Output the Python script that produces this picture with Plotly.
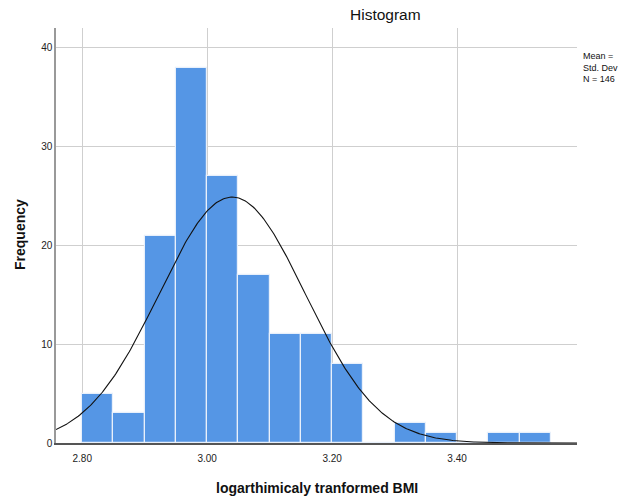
import numpy as np
import plotly.graph_objects as go

# Histogram bins (lower edges) and frequencies
bin_starts = [2.80, 2.85, 2.90, 2.95, 3.00, 3.05, 3.10, 3.15, 3.20, 3.25,
              3.30, 3.35, 3.40, 3.45, 3.50]
counts = [5, 3, 21, 38, 27, 17, 11, 11, 8, 0, 2, 1, 0, 1, 1]
bin_width = 0.05

# Summary statistics for the fitted normal curve
mean_val = 3.04
sd_val = 0.117
n_total = sum(counts)

x_ticks = [2.80, 3.00, 3.20, 3.40]
y_ticks = [0, 10, 20, 30, 40]

W, H = 618, 500
ML, MR, MT, MB = 56, 41, 28, 57
PW, PH = W - ML - MR, H - MT - MB


def px_x(p):
    return (p - ML) / PW


def px_y(p):
    return 1 - (p - MT) / PH


centers = [b + bin_width / 2 for b in bin_starts]

fig = go.Figure()
fig.add_trace(go.Bar(
    x=centers, y=counts, width=bin_width,
    marker=dict(color="#5596e5", line=dict(color="#e8f0fb", width=1.2)),
    showlegend=False, hoverinfo="x+y",
))

xr = [2.758, 3.592]
xs = np.linspace(xr[0], xr[1], 400)
ys = n_total * bin_width / (sd_val * np.sqrt(2 * np.pi)) * np.exp(-0.5 * ((xs - mean_val) / sd_val) ** 2)
fig.add_trace(go.Scatter(x=xs, y=ys, mode="lines",
                         line=dict(color="#111111", width=1.1),
                         showlegend=False, hoverinfo="skip"))

font = "Liberation Sans, Arial, sans-serif"

fig.update_layout(
    width=W, height=H,
    margin=dict(l=ML, r=MR, t=MT, b=MB),
    paper_bgcolor="white", plot_bgcolor="white",
    bargap=0,
    font=dict(family=font, color="#222222", size=10),
    xaxis=dict(
        range=xr, tickvals=x_ticks, ticktext=[f"{v:.2f}" for v in x_ticks],
        showgrid=True, gridcolor="#cfcfcf", gridwidth=1,
        showline=True, linecolor="#555555", linewidth=1.5,
        ticks="", zeroline=False, automargin=False, ticklabelstandoff=5,
        tickfont=dict(size=10, color="#222222"),
    ),
    yaxis=dict(
        range=[0, 42], tickvals=y_ticks,
        showgrid=True, gridcolor="#cfcfcf", gridwidth=1,
        showline=True, linecolor="#999999", linewidth=1.5,
        ticks="", zeroline=False, automargin=False,
        tickfont=dict(size=10, color="#222222"),
    ),
    annotations=[
        dict(text="Histogram", xref="paper", yref="paper",
             x=px_x(385), y=px_y(14),
             xanchor="center", yanchor="middle", showarrow=False,
             font=dict(size=15.5, color="#111111", family=font)),
        dict(text="<b>logarthimicaly tranformed BMI</b>", xref="paper", yref="paper",
             x=px_x(317), y=px_y(488),
             xanchor="center", yanchor="middle", showarrow=False,
             font=dict(size=14, color="#111111", family=font)),
        dict(text="<b>Frequency</b>", xref="paper", yref="paper",
             x=px_x(20), y=px_y(235), textangle=-90,
             xanchor="center", yanchor="middle", showarrow=False,
             font=dict(size=14, color="#111111", family=font)),
        dict(text=f"Mean =<br>Std. Dev<br>N = {n_total}",
             xref="paper", yref="paper",
             x=px_x(581), y=px_y(49),
             xanchor="left", yanchor="top", align="left", showarrow=False,
             font=dict(size=9, color="#111111", family=font)),
    ],
)

fig.write_html("out.html")
